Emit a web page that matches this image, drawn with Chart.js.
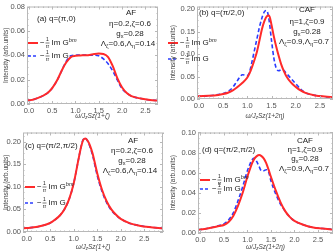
<!DOCTYPE html>
<html>
<head>
<meta charset="utf-8">
<script src="https://cdn.jsdelivr.net/npm/chart.js@4"></script>
<style>
  html, body { margin: 0; padding: 0; background: #fff; }
  #wrap { position: relative; width: 334px; height: 252px; }
  canvas { position: absolute; }
</style>
</head>
<body>
<div id="wrap">
  <canvas id="pa" width="167" height="126" style="left:0;top:0"></canvas>
  <canvas id="pb" width="167" height="126" style="left:167px;top:0"></canvas>
  <canvas id="pc" width="167" height="126" style="left:0;top:126px"></canvas>
  <canvas id="pd" width="167" height="126" style="left:167px;top:126px"></canvas>
</div>
<script>
const FONT = '"Liberation Sans", Arial, sans-serif';
const RED = "#ff2a2a";
const BLUE = "#2a3cff";

// Panel (a) q=(pi,0), AF
const aX = [-0.04, 0, 0.2, 0.4, 0.5, 0.6, 0.7, 0.8, 0.9, 1.0, 1.1, 1.2, 1.3, 1.4, 1.5, 1.6, 1.7, 1.8, 1.9, 2.0, 2.1, 2.2, 2.4, 2.6, 2.77];
const aRed = [0.003, 0.003, 0.005, 0.009, 0.013, 0.019, 0.027, 0.034, 0.0385, 0.0395, 0.0398, 0.04, 0.0403, 0.041, 0.0414, 0.041, 0.0385, 0.031, 0.021, 0.0135, 0.009, 0.0065, 0.0045, 0.0033, 0.0028];
const aBlue = [0.003, 0.003, 0.005, 0.009, 0.013, 0.019, 0.027, 0.035, 0.0395, 0.04, 0.0402, 0.0402, 0.0401, 0.04, 0.0395, 0.037, 0.033, 0.027, 0.0195, 0.0125, 0.009, 0.0065, 0.0045, 0.0033, 0.0028];

// Panel (b) q=(pi/2,0), CAF
const bX = [-0.04, 0, 0.2, 0.4, 0.5, 0.6, 0.7, 0.8, 0.9, 1.0, 1.05, 1.1, 1.15, 1.2, 1.25, 1.3, 1.35, 1.4, 1.45, 1.5, 1.55, 1.6, 1.65, 1.7, 1.75, 1.8, 1.9, 2.0, 2.1, 2.2, 2.4, 2.6, 2.77];
const bRed = [0.006, 0.006, 0.007, 0.009, 0.011, 0.014, 0.019, 0.027, 0.036, 0.048, 0.058, 0.072, 0.088, 0.106, 0.13, 0.155, 0.173, 0.184, 0.186, 0.165, 0.138, 0.115, 0.095, 0.077, 0.063, 0.052, 0.037, 0.027, 0.019, 0.0135, 0.008, 0.0055, 0.004];
const bBlue = [0.006, 0.006, 0.007, 0.01, 0.012, 0.017, 0.026, 0.042, 0.054, 0.052, 0.062, 0.085, 0.11, 0.135, 0.16, 0.18, 0.194, 0.197, 0.175, 0.13, 0.09, 0.068, 0.063, 0.065, 0.064, 0.058, 0.046, 0.034, 0.022, 0.014, 0.008, 0.005, 0.004];

// Panel (c) q=(pi/2,pi/2), AF
const cX = [-0.08, 0, 0.2, 0.4, 0.5, 0.6, 0.7, 0.8, 0.9, 1.0, 1.1, 1.15, 1.2, 1.25, 1.3, 1.35, 1.4, 1.5, 1.6, 1.7, 1.8, 1.9, 2.0, 2.2, 2.4, 2.6, 2.9];
const cRed = [0.008, 0.009, 0.011, 0.016, 0.02, 0.027, 0.036, 0.05, 0.072, 0.108, 0.16, 0.185, 0.203, 0.207, 0.201, 0.19, 0.174, 0.13, 0.094, 0.068, 0.05, 0.038, 0.029, 0.019, 0.014, 0.011, 0.008];
const cBlue = [0.008, 0.009, 0.011, 0.016, 0.02, 0.027, 0.036, 0.05, 0.072, 0.108, 0.16, 0.186, 0.204, 0.207, 0.2, 0.187, 0.17, 0.125, 0.09, 0.065, 0.048, 0.037, 0.029, 0.019, 0.014, 0.011, 0.008];

// Panel (d) q=(pi/2,pi/2), CAF
const dX = [-0.05, 0, 0.2, 0.4, 0.5, 0.6, 0.7, 0.8, 0.9, 1.0, 1.05, 1.1, 1.15, 1.2, 1.25, 1.3, 1.35, 1.4, 1.45, 1.5, 1.6, 1.7, 1.8, 1.9, 2.0, 2.2, 2.4, 2.6, 2.82];
const dRed = [0.0033, 0.0035, 0.005, 0.007, 0.008, 0.011, 0.017, 0.027, 0.04, 0.056, 0.063, 0.0695, 0.074, 0.0765, 0.0775, 0.0765, 0.074, 0.0695, 0.063, 0.056, 0.0426, 0.031, 0.022, 0.016, 0.012, 0.008, 0.0055, 0.0045, 0.0035];
const dBlue = [0.0035, 0.0035, 0.005, 0.0075, 0.009, 0.013, 0.02, 0.032, 0.046, 0.062, 0.068, 0.073, 0.0745, 0.071, 0.066, 0.062, 0.062, 0.063, 0.061, 0.052, 0.039, 0.029, 0.022, 0.016, 0.012, 0.008, 0.0055, 0.0045, 0.0035];

const xTicks = [0, 0.5, 1.0, 1.5, 2.0, 2.5];
const yTicksSmall = [0, 0.02, 0.04, 0.06, 0.08, 0.1];
const yTicksBig = [0, 0.05, 0.1, 0.15, 0.2];

// split "g_x=0.28" style strings into plain / sub / sup parts
function parse(str) {
  const parts = [];
  let i = 0, buf = "";
  while (i < str.length) {
    const ch = str[i];
    if (ch === "_" || ch === "^") {
      if (buf) { parts.push({ t: buf }); buf = ""; }
      let t;
      if (str[i + 1] === "{") {
        const end = str.indexOf("}", i);
        t = str.slice(i + 2, end);
        i = end + 1;
      } else {
        t = str[i + 1];
        i += 2;
      }
      parts.push(ch === "_" ? { t, sub: true } : { t, sup: true });
    } else {
      buf += ch;
      i++;
    }
  }
  if (buf) parts.push({ t: buf });
  return parts;
}

function rich(ctx, x, y, str, size, align, opts = {}) {
  const parts = parse(str);
  const fontOf = (p) => {
    const fs = p.sub || p.sup ? size * 0.7 : size;
    return (opts.italic || p.sup ? "italic " : "") + fs + "px " + FONT;
  };
  let w = 0;
  parts.forEach((p) => { ctx.font = fontOf(p); w += ctx.measureText(p.t).width; });
  let cx = align === "center" ? x - w / 2 : align === "right" ? x - w : x;
  ctx.textAlign = "left";
  ctx.textBaseline = "middle";
  parts.forEach((p) => {
    ctx.font = fontOf(p);
    const dy = p.sub ? size * 0.3 : p.sup ? -size * 0.35 : 0;
    ctx.fillText(p.t, cx, y + dy);
    cx += ctx.measureText(p.t).width;
  });
  return cx;
}

// "-1/pi Im G^bm" legend entry
function legendEntry(ctx, x, y, color, dashed, label) {
  ctx.save();
  ctx.strokeStyle = color;
  ctx.lineWidth = dashed ? 1.5 : 2;
  ctx.setLineDash(dashed ? [3, 2] : []);
  ctx.beginPath();
  ctx.moveTo(x, y);
  ctx.lineTo(x + 10, y);
  ctx.stroke();
  ctx.restore();
  ctx.fillStyle = "#222";
  ctx.font = "8px " + FONT;
  ctx.textBaseline = "middle";
  ctx.textAlign = "left";
  let cx = x + 12;
  ctx.fillText("\u2212", cx, y);
  cx += 5.5;
  ctx.font = "5px " + FONT;
  ctx.textAlign = "center";
  ctx.fillText("1", cx + 2, y - 3);
  ctx.font = "italic 5px " + FONT;
  ctx.fillText("\u03c0", cx + 2, y + 3.5);
  ctx.fillRect(cx, y - 0.3, 4, 0.6);
  ctx.textAlign = "left";
  rich(ctx, cx + 6, y, label, 8, "left");
}

const annot = {
  id: "annot",
  afterDraw(chart, args, o) {
    const ctx = chart.ctx;
    const ca = chart.chartArea;
    const xs = chart.scales.x, ys = chart.scales.y;
    ctx.save();
    // frame with inward ticks
    ctx.strokeStyle = "#b8b8b8";
    ctx.lineWidth = 1;
    ctx.strokeRect(ca.left + 0.5, ca.top + 0.5, ca.width - 1, ca.height - 1);
    ctx.beginPath();
    for (let v = 0; v <= xs.max + 1e-9; v += 0.1) {
      const px = Math.round(xs.getPixelForValue(v)) + 0.5;
      const major = Math.abs(v * 2 - Math.round(v * 2)) < 1e-6;
      const len = major ? 3 : 1.5;
      ctx.moveTo(px, ca.bottom); ctx.lineTo(px, ca.bottom - len);
      ctx.moveTo(px, ca.top); ctx.lineTo(px, ca.top + len);
    }
    const step = o.yStep / 4;
    for (let v = 0; v <= ys.max + 1e-9; v += step) {
      const py = Math.round(ys.getPixelForValue(v)) + 0.5;
      const major = Math.abs(v / o.yStep - Math.round(v / o.yStep)) < 1e-6;
      const len = major ? 3 : 1.5;
      ctx.moveTo(ca.left, py); ctx.lineTo(ca.left + len, py);
      ctx.moveTo(ca.right, py); ctx.lineTo(ca.right - len, py);
    }
    ctx.stroke();

    ctx.fillStyle = "#222";
    // panel label
    rich(ctx, o.label[0], o.label[1], o.label[2], 8, "left");
    // parameter block
    o.params.forEach((p) => rich(ctx, p[0], p[1], p[2], 8, "center"));
    // legend
    legendEntry(ctx, o.legend[0], o.legend[1], RED, false, "Im G^{bm}");
    legendEntry(ctx, o.legend[0], o.legend[2], BLUE, true, "Im G");
    // axis titles
    ctx.fillStyle = "#444";
    rich(ctx, (ca.left + ca.right) / 2, o.xTitleY, o.xTitle, 6.5, "center", { italic: true });
    ctx.translate(6, (ca.top + ca.bottom) / 2);
    ctx.rotate(-Math.PI / 2);
    rich(ctx, 0, 0, "Intensity (arb.units)", 6.5, "center");
    ctx.restore();
  },
};

function makePanel(id, cfg) {
  const points = (ys) => cfg.x.map((x, i) => ({ x, y: ys[i] }));
  return new Chart(document.getElementById(id), {
    type: "line",
    data: {
      datasets: [
        {
          data: points(cfg.red),
          borderColor: RED,
          borderWidth: 2,
          pointRadius: 0,
          cubicInterpolationMode: "monotone",
        },
        {
          data: points(cfg.blue),
          borderColor: BLUE,
          borderWidth: 1.6,
          borderDash: [4, 2.5],
          pointRadius: 0,
          cubicInterpolationMode: "monotone",
        },
      ],
    },
    options: {
      responsive: false,
      animation: false,
      layout: { padding: { top: cfg.area.top, right: 167 - cfg.area.right, left: 0, bottom: 0 } },
      plugins: { legend: { display: false }, tooltip: { enabled: false }, annot: cfg.annot },
      scales: {
        x: {
          type: "linear",
          min: cfg.xMin,
          max: cfg.xMax,
          afterBuildTicks: (s) => { s.ticks = xTicks.map((v) => ({ value: v })); },
          afterFit: (s) => { s.height = 126 - cfg.area.bottom; },
          grid: { display: false, drawTicks: false, tickLength: 0 },
          border: { display: false },
          ticks: { color: "#555", font: { size: 7.5, family: FONT }, padding: 2, maxRotation: 0, callback: (v) => v.toFixed(1) },
        },
        y: {
          min: 0,
          max: cfg.yMax,
          afterBuildTicks: (s) => { s.ticks = cfg.yTicks.map((v) => ({ value: v })); },
          afterFit: (s) => { s.width = cfg.area.left; },
          grid: { display: false, drawTicks: false, tickLength: 0 },
          border: { display: false },
          ticks: { color: "#555", font: { size: 7.5, family: FONT }, padding: 2, callback: (v) => v.toFixed(2) },
        },
      },
    },
    plugins: [annot],
  });
}

makePanel("pa", {
  x: aX, red: aRed, blue: aBlue, xMin: -0.04, xMax: 2.77, yMax: 0.08, yTicks: yTicksSmall,
  area: { left: 27, right: 158, top: 3, bottom: 104 },
  annot: {
    yStep: 0.02,
    label: [37, 19, "(a) q=(\u03c0,0)"],
    params: [[131, 13, "AF"], [130, 24, "\u03b7=0.2,\u03b6=0.6"], [130, 34, "g_x=0.28"], [128, 44, "\u039b_\u03b6=0.6,\u039b_\u03b7=0.14"]],
    legend: [28, 43, 56],
    xTitle: "\u03c9/J_zSz(1+\u03b6)", xTitleY: 116,
  },
});

makePanel("pb", {
  x: bX, red: bRed, blue: bBlue, xMin: -0.04, xMax: 2.77, yMax: 0.206, yTicks: yTicksBig,
  area: { left: 30, right: 166, top: 2, bottom: 99 },
  annot: {
    yStep: 0.05,
    label: [32, 13, "(b) q=(\u03c0/2,0)"],
    params: [[140, 10, "CAF"], [140, 22, "\u03b7=1,\u03b6=0.9"], [140, 32, "g_x=0.28"], [137, 42, "\u039b_\u03b6=0.9,\u039b_\u03b7=0.7"]],
    legend: [1, 43, 59],
    xTitle: "\u03c9/J_zSz(1+2\u03b7)", xTitleY: 116,
  },
});

makePanel("pc", {
  x: cX, red: cRed, blue: cBlue, xMin: -0.08, xMax: 2.9, yMax: 0.22, yTicks: yTicksBig,
  area: { left: 23, right: 163, top: 5, bottom: 106 },
  annot: {
    yStep: 0.05,
    label: [25, 20, "(c) q=(\u03c0/2,\u03c0/2)"],
    params: [[133, 15, "AF"], [132, 25, "\u03b7=0.2,\u03b6=0.6"], [132, 35, "g_x=0.28"], [130, 45, "\u039b_\u03b6=0.6,\u039b_\u03b7=0.14"]],
    legend: [25, 61, 77],
    xTitle: "\u03c9/J_zSz(1+\u03b6)", xTitleY: 121,
  },
});

makePanel("pd", {
  x: dX, red: dRed, blue: dBlue, xMin: -0.05, xMax: 2.82, yMax: 0.1, yTicks: yTicksSmall,
  area: { left: 31, right: 166, top: 5, bottom: 107 },
  annot: {
    yStep: 0.02,
    label: [35, 24, "(d) q=(\u03c0/2,\u03c0/2)"],
    params: [[138, 15, "CAF"], [138, 24, "\u03b7=1,\u03b6=0.9"], [138, 33, "g_x=0.28"], [137, 43, "\u039b_\u03b6=0.9,\u039b_\u03b7=0.7"]],
    legend: [33, 54, 63],
    xTitle: "\u03c9/J_zSz(1+2\u03b7)", xTitleY: 121,
  },
});
</script>
</body>
</html>
